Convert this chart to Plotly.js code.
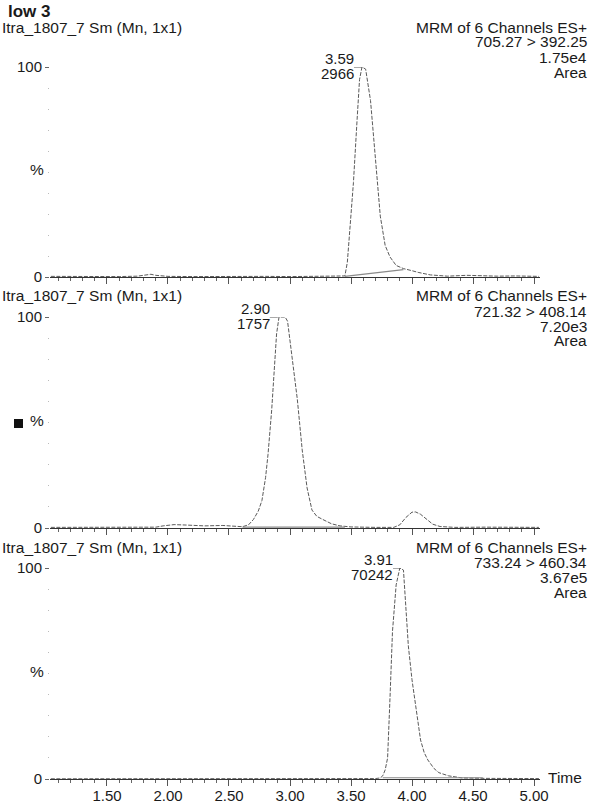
<!DOCTYPE html>
<html>
<head>
<meta charset="utf-8">
<script src="https://cdn.plot.ly/plotly-3.0.1.min.js"></script>
<style>html,body{margin:0;padding:0;background:#fff;}#chart{width:590px;height:803px;}</style>
</head>
<body>
<div id="chart"></div>
<script>
// ---- data ----
const sampleTitle = 'low 3';
const runLabel = 'Itra_1807_7 Sm (Mn, 1x1)';
const scanLabel = 'MRM of 6 Channels ES+';
const channels = ['705.27 > 392.25', '721.32 > 408.14', '733.24 > 460.34'];
const totals = ['1.75e4', '7.20e3', '3.67e5'];
const peakTimes = [3.59, 2.90, 3.91];
const peakAreas = ['2966', '1757', '70242'];
const xTickVals = [1.5, 2.0, 2.5, 3.0, 3.5, 4.0, 4.5, 5.0];
const xTickText = ['1.50', '2.00', '2.50', '3.00', '3.50', '4.00', '4.50', '5.00'];
const timeRange = [1.033, 5.049];

const topT = [1.04,1.2,1.4,1.6,1.75,1.82,1.86,1.9,2.0,2.2,2.4,2.6,2.8,3.0,3.2,3.35,3.42,3.45,3.47,3.50,3.52,3.55,3.57,3.59,3.62,3.66,3.70,3.74,3.78,3.82,3.87,3.93,4.00,4.05,4.15,4.29,4.45,4.55,4.7,4.85,5.04];
const topPct = [0.3,0.2,0.3,0.2,0.4,1.0,1.3,0.8,0.3,0.2,0.3,0.2,0.3,0.2,0.3,0.2,0.3,0.5,7,30,45,75,94,100,99,84,55,29,15,9.5,5.5,4,3,2.2,1,0.4,0.8,0.6,0.4,0.5,0.3];
const topBaseT = [3.45, 3.93];
const topBasePct = [0.3, 3.5];

const midT = [1.04,1.3,1.6,1.9,1.96,2.05,2.15,2.3,2.45,2.55,2.61,2.66,2.70,2.74,2.77,2.80,2.82,2.85,2.87,2.89,2.91,2.96,2.98,3.00,3.03,3.06,3.10,3.14,3.18,3.22,3.27,3.34,3.41,3.5,3.7,3.85,3.90,3.95,4.00,4.03,4.07,4.12,4.17,4.23,4.35,4.6,4.8,5.04];
const midPct = [0.3,0.4,0.3,0.4,1.0,1.6,1.4,1.0,1.2,0.8,0.6,1.5,4,8,13,24,35,56,75,92,100,100,98,89,76,61,37,19,8.5,5.5,4,2,1,0.5,0.3,0.3,1.5,5,7.5,7.6,6.5,4,1.8,0.7,0.3,0.4,0.3,0.3];
const midBaseT = [2.61, 3.45];
const midBasePct = [0.4, 0.4];

const botT = [1.04,1.5,2.0,2.5,3.0,3.5,3.70,3.74,3.76,3.78,3.80,3.82,3.84,3.87,3.90,3.93,3.95,3.97,4.00,4.02,4.05,4.07,4.10,4.13,4.18,4.22,4.30,4.41,4.6,4.8,5.04];
const botPct = [0.1,0.1,0.1,0.1,0.1,0.1,0.2,0.5,1.5,4.3,10,39,70,92,100,99,80,63,47,39,26,18.5,12.5,9,5,3,1.5,0.5,0.3,0.2,0.2];
const botBaseT = [3.76, 4.58];
const botBasePct = [0.6, 0.6];

// ---- layout helpers (pixel -> paper) ----
const W = 590, H = 803;
const px = v => v / W;
const py = v => 1 - v / H;
const FONT = 'Liberation Sans, Arial, sans-serif';
const TXT = '#1a1a1a';
const FS = 15.5;
const TFS = 15;

const panels = [
  {top: 67, bot: 277, head: 27},
  {top: 317, bot: 528, head: 296},
  {top: 568, bot: 779, head: 547}
];
const series = [[topT, topPct, topBaseT, topBasePct], [midT, midPct, midBaseT, midBasePct], [botT, botPct, botBaseT, botBasePct]];

const data = [];
const layout = {
  width: W, height: H,
  margin: {l: 0, r: 0, t: 0, b: 0},
  paper_bgcolor: '#fff', plot_bgcolor: 'rgba(0,0,0,0)',
  showlegend: false,
  font: {family: FONT, size: FS, color: TXT},
  annotations: [], shapes: []
};

panels.forEach((p, i) => {
  const xa = i === 0 ? 'x' : 'x' + (i + 1);
  const ya = i === 0 ? 'y' : 'y' + (i + 1);
  const s = series[i];
  data.push({x: s[0], y: s[1], xaxis: xa, yaxis: ya, type: 'scatter', mode: 'lines',
    line: {color: '#5a5a5a', width: 1, dash: '4px,1.5px'}, hoverinfo: 'skip'});
  data.push({x: s[2], y: s[3], xaxis: xa, yaxis: ya, type: 'scatter', mode: 'lines',
    line: {color: '#8a8a8a', width: 1.2}, hoverinfo: 'skip'});

  const xk = i === 0 ? 'xaxis' : 'xaxis' + (i + 1);
  const yk = i === 0 ? 'yaxis' : 'yaxis' + (i + 1);
  layout[xk] = {
    domain: [px(50), px(540)], range: timeRange, anchor: ya,
    showline: true, linecolor: '#333', linewidth: 1, showgrid: false, zeroline: false,
    ticks: 'outside', ticklen: 6, tickcolor: '#555', tickwidth: 1,
    tickvals: xTickVals, ticktext: xTickText, showticklabels: i === 2,
    ticklabelstandoff: -3,
    tickfont: {family: FONT, size: TFS, color: TXT},
    minor: {dtick: 0.1, tick0: 1.0, ticks: 'outside', ticklen: 3, tickcolor: '#666', showgrid: false},
    fixedrange: true
  };
  layout[yk] = {
    domain: [py(p.bot), py(p.top)], range: [0, 100], anchor: xa,
    showline: false, showgrid: false, zeroline: false,
    ticks: 'outside', ticklen: 4, tickcolor: '#666', tickwidth: 1,
    tickvals: [0, 100], ticktext: ['0', '100'],
    tickfont: {family: FONT, size: TFS, color: TXT},
    minor: {dtick: 10, ticks: 'outside', ticklen: 1, tickcolor: '#bbb', showgrid: false},
    fixedrange: true
  };

  // header texts
  layout.annotations.push({xref: 'paper', yref: 'paper', x: px(1), y: py(p.head), xanchor: 'left', yanchor: 'middle',
    text: runLabel, showarrow: false, borderpad: 0, font: {size: FS}});
  const rightLines = [scanLabel, channels[i], totals[i], 'Area'];
  rightLines.forEach((t, k) => {
    layout.annotations.push({xref: 'paper', yref: 'paper', x: px(588), y: py(p.head + 15 * k), xanchor: 'right', yanchor: 'middle',
      text: t, showarrow: false, borderpad: 0, font: {size: FS}});
  });
  // percent label
  layout.annotations.push({xref: 'paper', yref: 'paper', x: px(45), y: py((p.top + p.bot) / 2 - 2), xanchor: 'right', yanchor: 'middle',
    text: '%', showarrow: false, borderpad: 0, font: {size: FS}});
  // peak labels
  layout.annotations.push({xref: xa, yref: ya, x: peakTimes[i], y: 100, xanchor: 'right', yanchor: 'middle',
    xshift: -7, yshift: 9, text: peakTimes[i].toFixed(2), showarrow: false, borderpad: 0, font: {size: FS - 0.5}});
  layout.annotations.push({xref: xa, yref: ya, x: peakTimes[i], y: 100, xanchor: 'right', yanchor: 'middle',
    xshift: -7, yshift: -6, text: peakAreas[i], showarrow: false, borderpad: 0, font: {size: FS - 0.5}});
  layout.shapes.push({type: 'line', xref: xa, yref: ya, xsizemode: 'pixel', xanchor: peakTimes[i],
    x0: -8, x1: 0, y0: 100, y1: 100, line: {color: '#555', width: 1}});
});

layout.annotations.push({xref: 'paper', yref: 'paper', x: px(7), y: py(12), xanchor: 'left', yanchor: 'middle',
  text: '<b>' + sampleTitle + '</b>', showarrow: false, borderpad: 0, font: {size: 17}});
layout.annotations.push({xref: 'paper', yref: 'paper', x: px(547), y: py(777), xanchor: 'left', yanchor: 'middle',
  text: 'Time', showarrow: false, borderpad: 0, font: {size: FS}});
// small black marker next to the middle % label
layout.shapes.push({type: 'rect', xref: 'paper', yref: 'paper', x0: px(14), x1: px(23), y0: py(428), y1: py(419),
  fillcolor: '#111', line: {width: 0}});

Plotly.newPlot('chart', data, layout, {staticPlot: true, displayModeBar: false});
</script>
</body>
</html>
